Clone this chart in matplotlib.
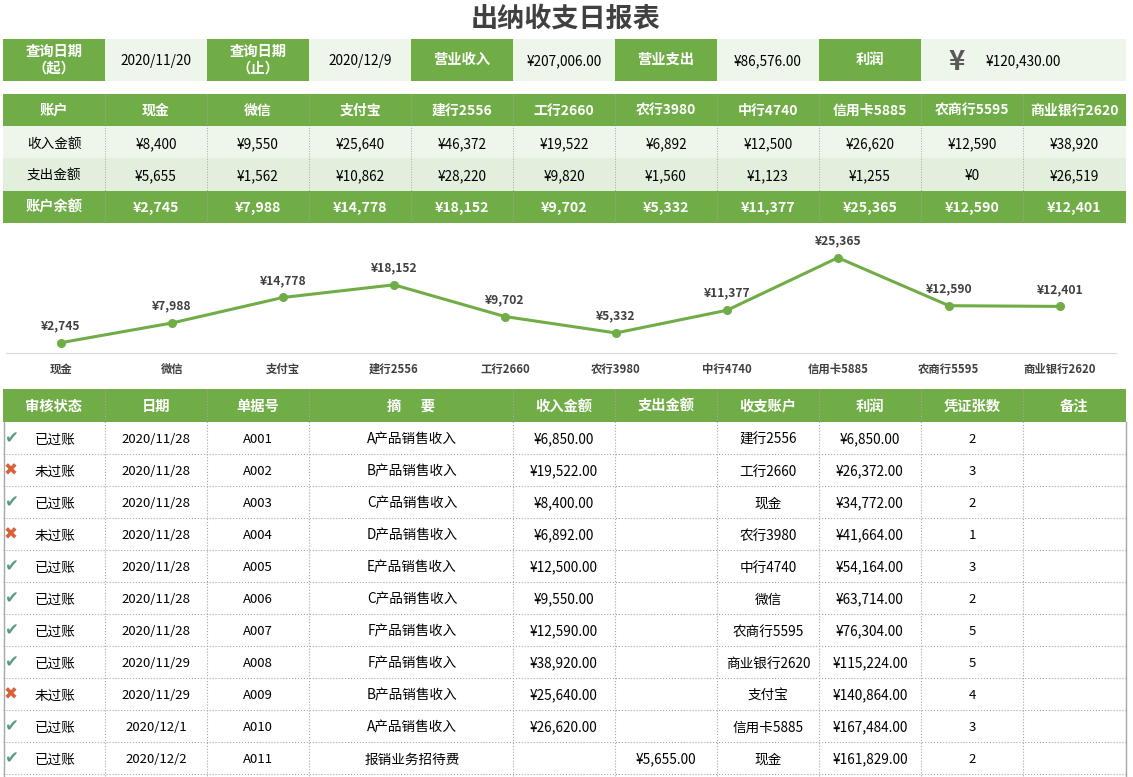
import matplotlib
matplotlib.use('Agg')
import matplotlib.pyplot as plt

plt.rcParams['font.family'] = ['Noto Sans CJK SC', 'DejaVu Sans']

GREEN = '#70AD47'
LIGHT = '#EEF6EC'
LIGHT2 = '#E2EFDD'
GRID = '#A6A6A6'

accounts = ['现金', '微信', '支付宝', '建行2556', '工行2660', '农行3980',
            '中行4740', '信用卡5885', '农商行5595', '商业银行2620']
income = [8400, 9550, 25640, 46372, 19522, 6892, 12500, 26620, 12590, 38920]
expense = [5655, 1562, 10862, 28220, 9820, 1560, 1123, 1255, 0, 26519]
balance = [2745, 7988, 14778, 18152, 9702, 5332, 11377, 25365, 12590, 12401]

summary_labels = ['查询日期\n（起）', '查询日期\n（止）', '营业收入', '营业支出', '利润']
summary_values = ['2020/11/20', '2020/12/9', '¥207,006.00', '¥86,576.00', '¥120,430.00']

detail_head = ['审核状态', '日期', '单据号', '摘      要', '收入金额', '支出金额',
               '收支账户', '利润', '凭证张数', '备注']
status = ['已过账', '未过账', '已过账', '未过账', '已过账', '已过账',
          '已过账', '已过账', '未过账', '已过账', '已过账']
dates = ['2020/11/28'] * 7 + ['2020/11/29', '2020/11/29', '2020/12/1', '2020/12/2']
doc_no = ['A001', 'A002', 'A003', 'A004', 'A005', 'A006', 'A007', 'A008', 'A009', 'A010', 'A011']
memo = ['A产品销售收入', 'B产品销售收入', 'C产品销售收入', 'D产品销售收入', 'E产品销售收入',
        'C产品销售收入', 'F产品销售收入', 'F产品销售收入', 'B产品销售收入', 'A产品销售收入',
        '报销业务招待费']
row_in = [6850, 19522, 8400, 6892, 12500, 9550, 12590, 38920, 25640, 26620, None]
row_out = [None] * 10 + [5655]
row_acct = ['建行2556', '工行2660', '现金', '农行3980', '中行4740', '微信', '农商行5595',
            '商业银行2620', '支付宝', '信用卡5885', '现金']
row_profit = [6850, 26372, 34772, 41664, 54164, 63714, 76304, 115224, 140864, 167484, 161829]
row_count = [2, 3, 2, 1, 3, 2, 5, 5, 4, 3, 2]

# column edges in pixels
edges = [3, 105, 207, 309, 411, 513, 615, 717, 819, 921, 1023, 1126]
# the detail table merges the 摘要 column over two widths
detail_edges = [3, 105, 207, 309, 513, 615, 717, 819, 921, 1023, 1126]

fig = plt.figure(figsize=(11.33, 7.77), dpi=100)
ax = fig.add_axes([0, 0, 1, 1])
ax.set_xlim(0, 1133)
ax.set_ylim(777, 0)
ax.axis('off')


def cell(x0, x1, y0, y1, color):
    ax.fill([x0, x1, x1, x0], [y0, y0, y1, y1], color=color, lw=0, zorder=1)


def put(x, y, s, size=9, color='black', weight='normal'):
    ax.text(x, y, s, ha='center', va='center', fontsize=size, color=color,
            fontweight=weight, zorder=4, linespacing=1.2)


def money(v, dec=False):
    if v is None:
        return ''
    return f'¥{v:,.2f}' if dec else f'¥{v:,}'


put(566, 19, '出纳收支日报表', size=19.5, color='#404040', weight='bold')

# summary band
cell(3, 1126, 39, 81, LIGHT)
for i in range(5):
    x0, x1 = edges[i * 2], edges[i * 2 + 1]
    cell(x0, x1, 39, 81, GREEN)
    put((x0 + x1) / 2, 60, summary_labels[i], size=10.3, color='white', weight='bold')
    if i < 4:
        put((x1 + edges[i * 2 + 2]) / 2, 61, summary_values[i], size=9.8)
put(1023, 61, summary_values[4], size=9.8)
put(957, 62, '¥', size=20, color='#595959', weight='bold')

# account table
rows_y = [94, 126, 158, 191, 223]
for y0, y1, c in zip(rows_y[:-1], rows_y[1:], [GREEN, LIGHT, LIGHT2, GREEN]):
    cell(3, 1126, y0, y1, c)
put(54, 111, '账户', size=10.3, color='white', weight='bold')
put(54, 144, '收入金额', size=9.8)
put(54, 176, '支出金额', size=9.8)
put(54, 208, '账户余额', size=10.3, color='white', weight='bold')
for i, name in enumerate(accounts):
    cx = (edges[i + 1] + edges[i + 2]) / 2
    put(cx, 111, name, size=10, color='white', weight='bold')
    put(cx, 144, money(income[i]), size=9.8)
    put(cx, 176, money(expense[i]), size=9.8)
    put(cx, 208, money(balance[i]), size=10.2, color='white', weight='bold')
for x in edges[1:-1]:
    ax.plot([x, x], [94, 223], color=GRID, lw=0.7, ls=':', zorder=3)

# detail table
cell(3, 1126, 389, 422, GREEN)
for i, name in enumerate(detail_head):
    put((detail_edges[i] + detail_edges[i + 1]) / 2, 407, name, size=10.3, color='white', weight='bold')
for i in range(len(status)):
    y0 = 422 + 32 * i
    cy = y0 + 17.5
    ok = status[i] == '已过账'
    ax.text(11, cy - 1, '✔' if ok else '✖', ha='center', va='center', fontsize=12,
            color='#5B9A7E' if ok else '#D9603B', family='DejaVu Sans', zorder=4)
    put(55, cy, status[i], size=9.8)
    put(156, cy, dates[i], size=9.5)
    put(258, cy, doc_no[i], size=9.5)
    put(412, cy, memo[i], size=9.8)
    put(564, cy, money(row_in[i], True), size=9.8)
    put(666, cy, money(row_out[i], True), size=9.8)
    put(768, cy, row_acct[i], size=9.8)
    put(870, cy, money(row_profit[i], True), size=9.8)
    put(972, cy, str(row_count[i]), size=9.5)
    ax.plot([3, 1126], [y0 + 32, y0 + 32], color=GRID, lw=0.8, ls=':', zorder=3)
for x in detail_edges[1:-1]:
    ax.plot([x, x], [389, 777], color=GRID, lw=0.8, ls=':', zorder=3)
ax.plot([3.5, 3.5], [422, 777], color=GRID, lw=1, zorder=3)
ax.plot([1125.5, 1125.5], [422, 777], color=GRID, lw=1, zorder=3)

# balance line chart
chart = fig.add_axes([6 / 1133, 1 - 353 / 777, 1110 / 1133, 130 / 777])
chart.patch.set_alpha(0)
pos = list(range(len(accounts)))
chart.plot(pos, balance, color=GREEN, lw=2.2, marker='o', markersize=5.5)
chart.set_xlim(-0.495, 9.505)
chart.set_ylim(0, 34600)
chart.set_yticks([])
chart.set_xticks(pos)
chart.set_xticklabels(accounts, fontsize=8.2, fontweight='bold', color='#404040')
chart.tick_params(axis='x', length=0, pad=7)
for s in ['top', 'left', 'right']:
    chart.spines[s].set_visible(False)
chart.spines['bottom'].set_color('#D9D9D9')
chart.spines['bottom'].set_linewidth(0.8)
for p, v in zip(pos, balance):
    chart.annotate(money(v), (p, v), xytext=(0, 7.5), textcoords='offset points', ha='center',
                   va='bottom', fontsize=8.7, fontweight='bold', color='#404040')

fig.savefig('out.png', dpi=100)
